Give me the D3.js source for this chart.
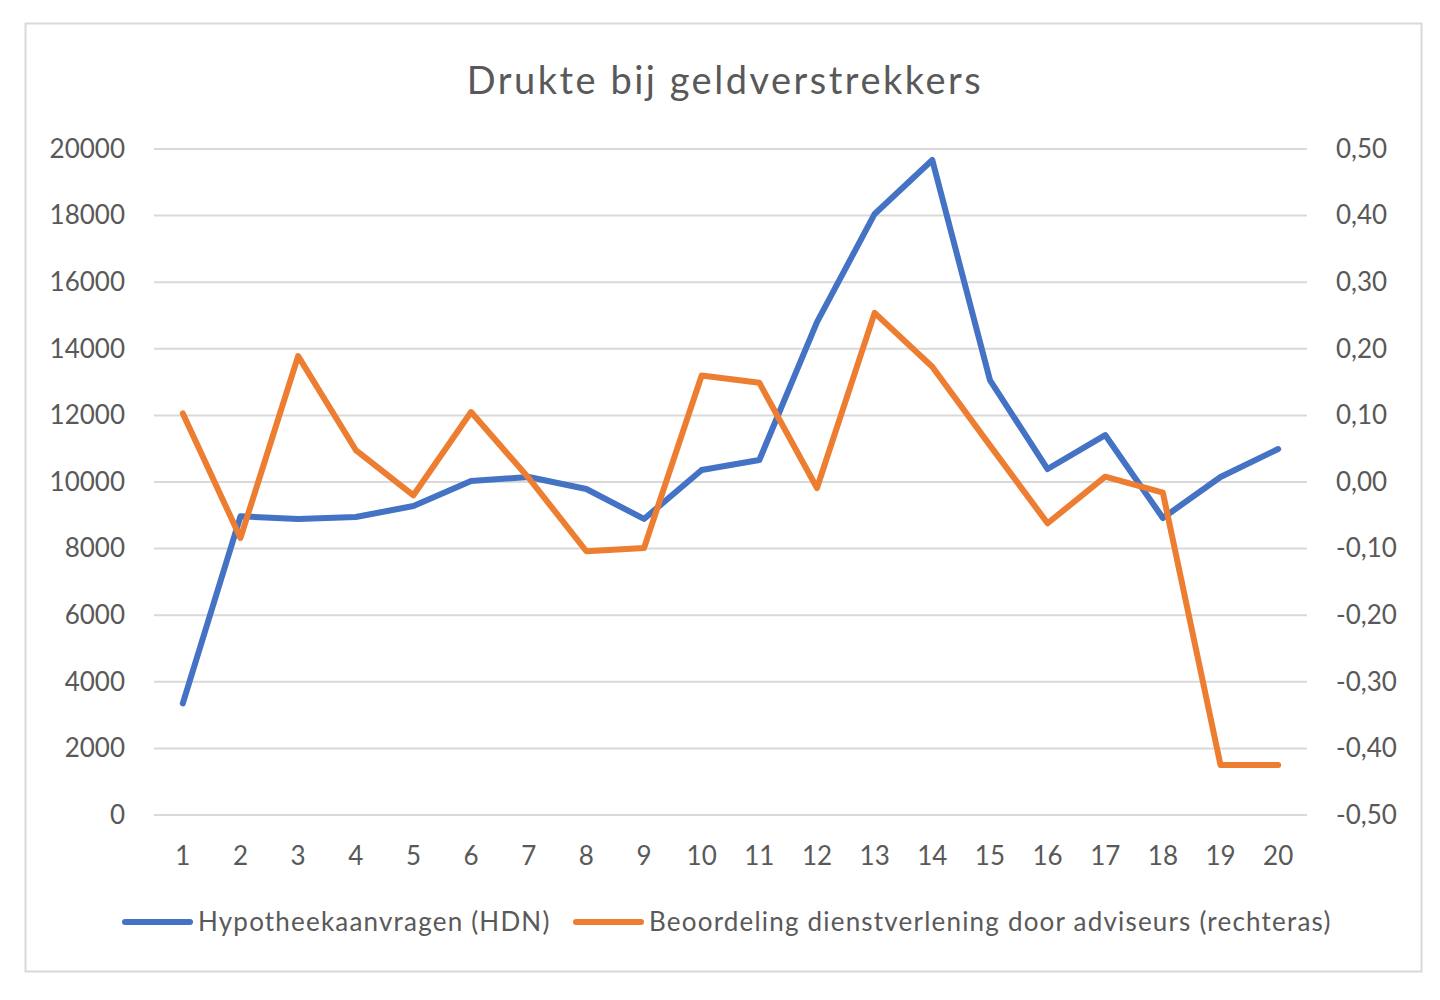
<!DOCTYPE html>
<html lang="nl">
<head>
<meta charset="UTF-8">
<title>Drukte bij geldverstrekkers</title>
<script src="https://d3js.org/d3.v7.min.js"></script>
<style>
  body { margin: 0; background: #fff; font-family: Lato, "Open Sans", sans-serif; }
  svg { display: block; }
  .tick text { fill: #595959; font-size: 26px; font-family: Lato, sans-serif; }
  .grid line { stroke: #d9d9d9; stroke-width: 2px; }
  .series { fill: none; stroke-width: 6px; stroke-linejoin: round; stroke-linecap: round; }
</style>
</head>
<body>
<script>
// categories and series
const periods = d3.range(1, 21);
const hypotheekaanvragen = [3350, 8970, 8890, 8950, 9280, 10030, 10150, 9790, 8890, 10360,
                            10660, 14800, 18050, 19670, 13060, 10390, 11410, 8920, 10150, 10990];
const beoordeling = [0.103, -0.084, 0.189, 0.048, -0.020, 0.105, 0.006, -0.104, -0.099, 0.160,
                     0.149, -0.009, 0.254, 0.173, 0.055, -0.062, 0.008, -0.016, -0.425, -0.425];
const leftTicks = d3.range(0, 20001, 2000);
const rightTicks = d3.range(-5, 6).map(d => d / 10);
const seriesNames = ["Hypotheekaanvragen (HDN)", "Beoordeling dienstverlening door adviseurs (rechteras)"];
const colors = ["#4472C4", "#ED7D31"];

const W = 1440, H = 1000;
const svg = d3.select("body").append("svg").attr("width", W).attr("height", H);

// chart frame
svg.append("rect")
    .attr("x", 25.5).attr("y", 23.5)
    .attr("width", 1396).attr("height", 948)
    .attr("fill", "#fff").attr("stroke", "#d9d9d9").attr("stroke-width", 2);

svg.append("text")
    .attr("x", 725).attr("y", 94)
    .attr("text-anchor", "middle")
    .attr("fill", "#595959")
    .style("font-size", "38px")
    .style("letter-spacing", "2.5px")
    .style("font-family", "Lato, sans-serif")
    .text("Drukte bij geldverstrekkers");

const plot = { left: 154, right: 1307, top: 149, bottom: 815 };

const x = d3.scaleBand().domain(periods).range([plot.left, plot.right]);
const yLeft = d3.scaleLinear().domain([0, 20000]).range([plot.bottom, plot.top]);
const yRight = d3.scaleLinear().domain([-0.5, 0.5]).range([plot.bottom, plot.top]);

const nl = d3.formatLocale({ decimal: ",", thousands: ".", grouping: [3], currency: ["€", ""], minus: "-" });

// gridlines
svg.append("g").attr("class", "grid")
  .selectAll("line").data(leftTicks).join("line")
    .attr("x1", plot.left).attr("x2", plot.right)
    .attr("y1", d => yLeft(d)).attr("y2", d => yLeft(d));

// left axis
svg.append("g")
    .attr("transform", `translate(${plot.left},0)`)
    .call(d3.axisLeft(yLeft).tickValues(leftTicks).tickFormat(d => d).tickSize(0).tickPadding(29))
    .call(g => g.select(".domain").remove());

// right axis
svg.append("g")
    .attr("transform", `translate(${plot.right},0)`)
    .call(d3.axisRight(yRight).tickValues(rightTicks).tickFormat(nl.format(".2f")).tickSize(0).tickPadding(29))
    .call(g => g.select(".domain").remove());

// bottom axis
svg.append("g")
    .attr("transform", `translate(0,${plot.bottom})`)
    .call(d3.axisBottom(x).tickSize(0).tickPadding(32))
    .call(g => g.select(".domain").remove());

const cx = d => x(d) + x.bandwidth() / 2;

svg.append("path")
    .datum(hypotheekaanvragen)
    .attr("class", "series")
    .attr("stroke", colors[0])
    .attr("d", d3.line().x((d, i) => cx(periods[i])).y(d => yLeft(d)));

svg.append("path")
    .datum(beoordeling)
    .attr("class", "series")
    .attr("stroke", colors[1])
    .attr("d", d3.line().x((d, i) => cx(periods[i])).y(d => yRight(d)));

// legend
const legendX = [123, 574];
const legend = svg.append("g").selectAll("g").data(seriesNames).join("g")
    .attr("transform", (d, i) => `translate(${legendX[i]},922)`);
legend.append("line")
    .attr("x1", 2).attr("x2", 67)
    .attr("stroke", (d, i) => colors[i])
    .attr("stroke-width", 6).attr("stroke-linecap", "round");
legend.append("text")
    .attr("x", 75).attr("dy", "0.35em")
    .attr("fill", "#595959")
    .style("font-size", "26px")
    .style("letter-spacing", "1.2px")
    .style("font-family", "Lato, sans-serif")
    .text(d => d);
</script>
</body>
</html>
